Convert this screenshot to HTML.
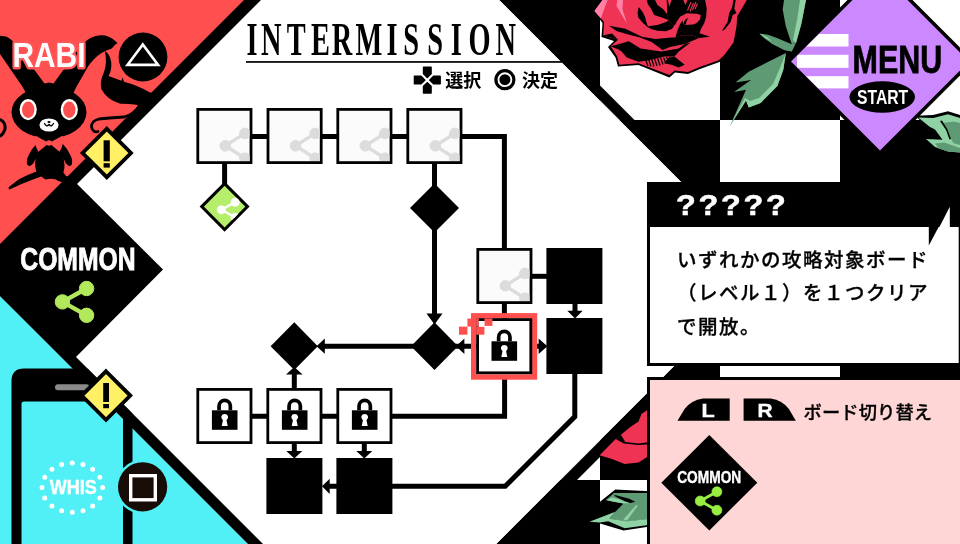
<!DOCTYPE html>
<html lang="ja">
<head>
<meta charset="utf-8">
<title>INTERMISSION</title>
<style>
html,body{margin:0;padding:0;background:#fff;overflow:hidden}
body{width:960px;height:544px;position:relative;font-family:"Liberation Sans","Noto Sans CJK JP",sans-serif}
svg{position:absolute;left:0;top:0;display:block;will-change:transform}
.sans{font-family:"Liberation Sans","Noto Sans CJK JP",sans-serif}
.serif{font-family:"Liberation Serif","Noto Serif CJK JP",serif}
.jp{font-family:"Liberation Sans","Noto Sans CJK JP",sans-serif}
</style>
</head>
<body>
<svg width="960" height="544" viewBox="0 0 960 544">
<defs>
  <clipPath id="rightClip"><polygon points="499.5,0 960,0 960,544 496.5,544 770,270.5"/></clipPath>
  <g id="share">
    <line x1="19.6" y1="-12.4" x2="0" y2="0" stroke-width="3.4"/>
    <line x1="19.6" y1="12.4" x2="0" y2="0" stroke-width="3.4"/>
    <circle cx="19.6" cy="-12.4" r="5.3"/><circle cx="0" cy="0" r="5.3"/><circle cx="19.6" cy="12.4" r="5.3"/>
  </g>
  <g id="share2">
    <line x1="24.2" y1="-13.4" x2="0" y2="0" stroke-width="4.3"/>
    <line x1="24.2" y1="13.4" x2="0" y2="0" stroke-width="4.3"/>
    <circle cx="24.2" cy="-13.4" r="7.2"/><circle cx="0" cy="0" r="7.2"/><circle cx="24.2" cy="13.4" r="7.2"/>
  </g>
  <g id="lock">
    <path d="M-7.5,0 V-4.3 A7.5,7.5 0 0 1 7.5,-4.3 V0 H3.8 V-4.3 A3.8,3.8 0 0 0 -3.8,-4.3 V0 Z" fill="#000"/>
    <rect x="-12.8" y="0" width="25.6" height="19.5" fill="#000"/>
    <path d="M0,3.6 a3.4,3.4 0 0 1 1.8,6.3 L3,15.6 H-3 L-1.8,9.9 A3.4,3.4 0 0 1 0,3.6 Z" fill="#fff"/>
  </g>
  <clipPath id="boxclip"><rect x="2.5" y="2.5" width="50.6" height="50.6"/></clipPath>
  <clipPath id="gdclip"><polygon points="224.6,185.6 245.6,206.6 224.6,227.6 203.6,206.6"/></clipPath>
  <clipPath id="phoneclip"><polygon points="0,281 263,544 0,544"/></clipPath>
  <g id="wbox">
    <rect x="1.4" y="1.4" width="53.2" height="53.2" fill="#fbfbfb" stroke="#000" stroke-width="2.8"/>
    <g clip-path="url(#boxclip)"><use href="#share" x="28.9" y="37.8" fill="#dcdcdc" stroke="#dcdcdc"/></g>
  </g>
  <g id="lbox">
    <rect x="1.4" y="1.4" width="53.2" height="53.2" fill="#fff" stroke="#000" stroke-width="2.8"/>
    <use href="#lock" x="28.3" y="22.3"/>
  </g>
</defs>

<!-- ===== right background: checker ===== -->
<g clip-path="url(#rightClip)">
  <rect x="480" y="0" width="480" height="544" fill="#000"/>
  <g fill="#fff">
    <rect x="600" y="0" width="120" height="120"/><rect x="840" y="0" width="120" height="120"/>
    <rect x="480" y="120" width="120" height="120"/><rect x="720" y="120" width="120" height="120"/>
    <rect x="600" y="240" width="120" height="120"/><rect x="840" y="240" width="120" height="120"/>
    <rect x="480" y="360" width="120" height="120"/><rect x="720" y="360" width="120" height="120"/>
    <rect x="600" y="480" width="120" height="120"/><rect x="840" y="480" width="120" height="120"/>
  </g>
  <polygon points="499.5,0 514.5,0 800,285.5 770,270.5" fill="#000"/>
  <polygon points="496.5,544 513,544 800,257 770,270.5" fill="#000"/>
</g>

<g id="rose1">
  <!-- black under-shadow -->
  <path d="M598,0 L592.5,11 L599.5,19 L602.5,23 L601.5,37 L614,41 L608,47 L615.5,57.5 L618,66.6 L638.5,65 L669.4,77.5 L675,72.5 L688,74 L700,69 L719.5,62 L726,55.5 L735,43 L738,26.5 L738.8,16.5 L744,8 L748.5,0 Z" fill="#000"/>
  <!-- red body -->
  <path d="M602.5,0 L594.4,11 L601,18.4 L604,22 L603.2,35.3 L618,39.7 L610.6,46.3 L617.2,56.6 L619.4,64.7 L638.5,63.2 L669.4,75 L674.7,70.6 L688,72 L699.7,67 L718.8,60.3 L724.7,54.4 L733.5,42.6 L736.5,26.5 L737.2,16.2 L742.4,7.4 L746.8,0 Z" fill="#ee3355"/>
  <!-- pink highlight -->
  <path d="M602.5,0 L594.4,11 L601,18.4 L604.7,7.4 L607.6,0 Z" fill="#ff7fa5"/>
  <path d="M617.2,0 L616.5,5.9 L626.8,23.5 L622.4,8.8 L623.1,0 Z" fill="#ff7fa5"/>
  <!-- inner shading -->
  <g fill="#000">
    <path d="M638.8,7.1 L642.5,11.7 L645.0,16.7 L646.2,21.7 L647.9,26.2 L657.5,25.0 L666.7,21.8 L668.5,20.0 L673.3,25.0 L674.2,26.0 L671.7,29.0 L665.8,31.2 L657.5,30.8 L651.7,29.2 L647.1,26.7 L642.5,22.5 L638.3,17.5 L637.5,12.5 Z"/>
    <path d="M646.7,0.0 L655.0,0.0 L657.5,5.0 L663.3,9.2 L667.1,14.2 L668.5,20.0 L663.3,17.9 L654.2,15.0 L650.8,8.3 L647.9,4.2 Z"/>
    <path d="M666.7,0.0 L667.9,0.0 L669.2,6.7 L671.7,0.0 L683.3,0.0 L685.4,5.0 L687.5,0.0 L705.0,0.0 L706.7,8.3 L706.2,16.7 L704.2,23.3 L700.8,29.2 L699.6,33.3 L710.0,36.7 L699.2,37.9 L692.5,35.4 L680.0,35.8 L675.4,37.5 L676.7,33.3 L678.3,28.3 L680.0,24.2 L682.5,20.8 L684.2,25.0 L693.3,24.6 L696.7,22.9 L700.0,19.6 L700.8,15.0 L696.7,13.8 L686.7,13.3 L680.0,16.7 L676.7,21.7 L675.0,25.0 L673.3,25.0 L668.5,20.0 L667.1,14.2 L667.1,7.5 Z"/>
    <path d="M688.3,17.9 L685.4,19.6 L683.8,22.5 L684.2,25.0 L685.8,24.2 L686.7,20.8 Z"/>
    <path d="M609.1,25.7 L625.3,28.7 L642,36.8 L655.3,39 L671.5,37.5 L675.4,37.5 L680,35.8 L692.5,35.4 L699.2,37.9 L684.7,44.1 L670,47.1 L662.6,50 L651.6,41.9 L640,37.5 L628.2,34.6 L616.5,30.9 Z"/>
    <path d="M610.6,46.3 L619.4,44.1 L628.8,41.2 L640.6,48.5 L661.2,51.5 L678.8,48.5 L684.7,44.1 L690.6,42.6 L678.8,51.5 L674.4,56.6 L664.1,56.6 L648.8,60.3 L638.5,61.8 L626.8,57.4 L621.6,51.5 L618,49.3 Z"/>
    <path d="M674.4,56.6 L684.7,64.7 L678.8,67.6 L671.5,64.7 L664.1,63.2 L668,58 Z"/>
    <path d="M729.1,13.2 L732,7.4 L733.5,0 L735.7,0 L734.3,8.8 L736.5,13.2 L732.8,14.7 L730.6,22 L724.7,29.4 L721.8,30.9 L727.6,22 Z"/>
    <path d="M603.2,35.3 L612,33.5 L618,39.7 Z"/>
  </g>
  <!-- hatch -->
  <g stroke="#ee3355" stroke-width="1.1">
    <path d="M687.5,10.5 L691,2 M690,11.5 L693.5,3 M692.5,10 L696,2 M695,9 L697.5,3.5"/>
  </g>
  <g stroke="#000" stroke-width="1.2">
    <path d="M645.5,59.5 L648,66 M648.5,59 L651,66.5 M651.5,58.5 L654,66.5 M654.5,58.5 L657,66 M657.5,58 L660,65.5 M660.5,57.5 L663,64.5 M663.5,57.5 L666,63.5 M666.5,57 L669,62.5 M669.5,57 L672,61.5"/>
  </g>
</g>

<g id="leaves">
  <!-- top leaf A -->
  <path d="M784,0 L782.7,9.6 L785.8,26.3 L791.8,44.3 L796,43 L801.3,24 L806,0 Z" fill="#5e9b74"/>
  <path d="M800,0 L797,20 L793,40 L796,43 L801.3,24 L806,0 Z" fill="#8fd3a5"/>
  <!-- small leaf B -->
  <path d="M759.5,33.5 L768,34.7 L777.5,38.3 L791.8,44.3 L796,43 L791.8,51.4 L784.6,50.2 L772.6,44.3 L764.3,38.3 Z" fill="#5e9b74"/>
  <path d="M759.5,33.5 L765,38 L772,41.5 L767,37 Z" fill="#8fd3a5"/>
  <!-- leaf C -->
  <path d="M785.8,53 L767.8,62 L748.7,71.8 L735.5,82.5 L751,80 L734,92 L746,89.7 L729.6,126.8 L734,119.6 L746,100.5 L748.7,107.6 L760.7,102.9 L777.4,86 L783.4,69.4 Z" fill="#5e9b74"/>
  <path d="M785.8,53 L783.4,69.4 L777.4,86 L760.7,102.9 L748.7,107.6 L746,100.5 L734,119.6 L729.6,126.8 L745,98 L750,101 L759,98 L773,84 L780,68 Z" fill="#8fd3a5"/>
  <!-- leaf D right -->
  <path d="M915.5,115.8 L933,115 L948,111.3 L962,115.5 L962,155 L947.5,154 L933.5,149 L922.5,138.3 L938.5,139.3 L933,131 L927,127.5 Z" fill="#000"/>
  <path d="M918.2,117.4 L933.3,118 L948,114.3 L960,118 L960,152.5 L948,151.6 L935,147 L926,138.9 L942.5,139.8 L935,129.5 L929.6,126.8 Z" fill="#8fd3a5"/>
  <path d="M942.5,123.1 L953.5,121.6 L960,123.1 L960,145.1 L953.5,143.3 L950.8,138.7 L947.1,129.5 Z" fill="#5e9b74"/>
  <path d="M935.1,143.6 L944.3,142.6 L960,147.9 L960,152.5 L948,151.6 L938.8,148.5 Z" fill="#5e9b74"/>
  <path d="M940,121 L946,130 L949.5,139.5 L951,139 L947.5,129.5 L942,120.5 Z" fill="#000"/>
</g>

<g id="rose2">
  <path d="M650,404 L640,413 L636.5,421 L628,427 L619,434.5 L596.5,455.8 L611,461 L624.6,466 L639.5,464.5 L650,457 Z" fill="#000"/>
  <path d="M650,408.2 L641.5,414.1 L638.5,421.5 L629.7,427.4 L620.9,434.7 L615.7,439.1 L599.6,455.3 L612,459 L624.6,464.1 L638.5,462.6 L650,455.3 Z" fill="#ee3355"/>
  <path d="M615.7,439.1 L620.9,434.7 L625.3,442.1 L638.5,443.5 L650,442.1 L650,444.3 L638.5,445 L623.8,443.5 Z" fill="#000"/>
  <!-- leaf E -->
  <path d="M600,501.8 L615.3,489.4 L650,491.2 L650,526.5 L623.5,530.6 L600,523.5 L586,526.5 Z" fill="#000"/>
  <path d="M614,493 L650,493 L650,519 L627,521.5 L609.4,519 L615.3,511.8 L623.5,503.5 L606,500 Z" fill="#5e9b74"/>
  <path d="M606,500 L612,497.5 L622,500 L630,503 L623.5,503.5 L612,501.5 Z" fill="#8fd3a5"/>
  <path d="M614.1,494.7 L629.4,498.8 L635.3,501.8 L630.6,503 L624.7,501.2 L615.3,496.5 Z" fill="#000"/>
  <path d="M589.4,521.8 L615.3,511.8 L609.4,518.8 L627,521.2 L650,518.8 L650,524.7 L624.7,528.2 L608.2,521.2 L600,522.4 Z" fill="#8fd3a5"/>
  <path d="M623.5,519.4 L636.5,504.7 L637.6,505.9 L627,520.6 Z" fill="#8fd3a5"/>
</g>


<!-- ===== left regions ===== -->
<polygon points="0,0 245,0 0,245" fill="#ff4f4f"/>
<polygon points="244,0 261,0 0,261 0,244" fill="#000"/>
<polygon points="0,296 248,544 0,544" fill="#50f0f6"/>
<polygon points="0,281 0,296 248,544 263,544" fill="#000"/>
<polygon points="-25,271 69,176 163,269.5 69,364" fill="#000"/>

<g id="bunny">
  <!-- ears -->
  <path d="M-2,35.5 L6,36.5 Q12,39 16,45 L44.5,83.5 L49,82.5 L52,100 L30,100 L22,86 L-2,51 Z" fill="#000"/>
  <path d="M49,82.5 L53.5,83.5 L80,47 Q86,39 95.6,36 Q103,34.3 108.8,36.8 Q114,39 117.5,43 Q114,45 111.8,48.5 Q106,50 101.5,53 Q94,58 88.2,66.2 L76.5,86.8 L70,100 L50,100 Z" fill="#000"/>
  <!-- swoosh -->
  <path d="M104.8,51 Q110,54 111.2,62 Q112,70 108.5,76 L121.5,80.8 L122.6,77.2 L124,81.8 Q138,85.5 150,92.5 L158,93.5 L144,106.5 Q134,103.5 120.4,103.8 Q107,100 101.3,89 Q99.5,81 104,72 Q107.5,62 104.8,51 Z" fill="#000"/>
  <!-- thin tail -->
  <path d="M140,104 Q136,114 124,117 Q108,118 99,119 Q91,121 91.5,127 Q93,133 98,131.5" fill="none" stroke="#000" stroke-width="2.8" stroke-linecap="round"/>
  <!-- left curl -->
  <path d="M-2,119 Q6,121 5,129 Q3,136 -3,137" fill="none" stroke="#000" stroke-width="3" stroke-linecap="round"/>
  <!-- head -->
  <ellipse cx="49" cy="112.3" rx="37.5" ry="26" fill="#000"/>
  <!-- body -->
  <path d="M38,136 L60,136 L62.4,143.4 Q67,148 70,154.5 Q73.5,161 71.5,165 Q69,167.5 66,163.5 L63.6,159 Q65.5,166 63.4,172.5 L66,176 Q72,177.5 74,180.5 Q72,183.5 64,182.6 Q58,181.5 56,179.4 Q51,178 45.5,179.4 L41.2,176.6 Q31.7,180 21,184.2 L9.5,189.6 Q7.5,188 9.5,186.4 L19,179.2 Q28,174.5 36.4,171.5 Q34,165 35.8,158.5 L33.2,163.5 Q30,167.5 27.5,165 Q25.5,161 29,154.5 Q32,148 37,143.4 Z" fill="#000"/>
  <!-- eyes -->
  <ellipse cx="28.2" cy="109.6" rx="8.6" ry="10.6" fill="#fff"/><ellipse cx="28.2" cy="109.8" rx="6.2" ry="8.2" fill="#ff4f4f"/>
  <ellipse cx="69.3" cy="109.6" rx="8.6" ry="10.6" fill="#fff"/><ellipse cx="69.3" cy="109.8" rx="6.2" ry="8.2" fill="#ff4f4f"/>
  <!-- muzzle -->
  <ellipse cx="49" cy="125" rx="9.6" ry="6.6" fill="#fff"/>
  <path d="M44.5,123.5 Q46.5,127.5 49,124.5 Q51.5,127.5 53.5,123.5" fill="none" stroke="#000" stroke-width="1.3" stroke-linecap="round"/>
  <ellipse cx="49" cy="122" rx="1.6" ry="1.1" fill="#000"/>
  <!-- bow tie -->
  <path d="M49,143 L35.5,135.8 Q33.5,144 38.5,151.8 Z M49,143 L62.5,135.8 Q64.5,144 59.5,151.8 Z" fill="#ff4f4f"/>
  <circle cx="49" cy="143" r="2.8" fill="#ff4f4f"/>
</g>
<!-- triangle button -->
<circle cx="143" cy="57" r="24.4" fill="#000"/>
<polygon points="142.8,44.5 127.6,64.8 158,64.8" fill="none" stroke="#fff" stroke-width="2.7" stroke-linejoin="miter"/>
<!-- yellow ! top -->
<polygon points="106.8,128.8 131,153 106.8,177.2 82.6,153" fill="#fff066" stroke="#000" stroke-width="3.8" stroke-linejoin="miter"/>
<rect x="103.6" y="140.3" width="6.2" height="21" fill="#000"/><rect x="103.6" y="163.2" width="6.2" height="4.4" fill="#000"/>

<!-- phone -->
<path clip-path="url(#phoneclip)" d="M11.5,544 V381 Q11.5,368.5 24,368.5 H120 Q132.5,368.5 132.5,381 V544 H123 V404 Q123,401.5 120.5,401.5 H24 Q21.5,401.5 21.5,404 V544 Z" fill="#000"/>
<rect x="55" y="384.3" width="34.5" height="6" rx="3" fill="#8a8a8a"/>
<polygon points="106,371.3 130.3,395.6 106,419.9 81.7,395.6" fill="#fff066" stroke="#000" stroke-width="3.8"/>
<rect x="103.2" y="383" width="5.8" height="19" fill="#000"/><rect x="103.2" y="404" width="5.8" height="4.2" fill="#000"/>
<ellipse cx="72.3" cy="487.6" rx="30.3" ry="24.7" fill="none" stroke="#fff" stroke-width="5" stroke-linecap="round" pathLength="160" stroke-dasharray="0 10"/>
<circle cx="142.6" cy="486.8" r="27" fill="#50f0f6"/>
<circle cx="142.6" cy="486.8" r="24.6" fill="#170c06"/>
<rect x="130.7" y="475.7" width="24.6" height="24.1" fill="none" stroke="#fff" stroke-width="3.4"/>

<g id="graph">
  <!-- connector lines -->
  <g stroke="#000" stroke-width="5" fill="none" stroke-linejoin="miter">
    <path d="M250,136.4 H410"/>
    <path d="M224.6,160 V190"/>
    <path d="M460,136.4 H504.4 V320"/>
    <path d="M434.5,160 V316"/>
    <path d="M322,346.2 H540"/>
    <path d="M530,276.3 H550"/>
    <path d="M575,300 V312"/>
    <path d="M504.6,376 V416.3 H250"/>
    <path d="M294.3,372 V452"/>
    <path d="M364.3,440 V452"/>
    <path d="M574.8,370 V416.6 L505.2,486.3 H328"/>
  </g>
  <!-- arrowheads -->
  <g fill="#000">
    <polygon points="434.5,324.5 426.5,313.5 442.5,313.5"/>
    <polygon points="316.5,346.2 324.8,338.6 324.8,353.8"/>
    <polygon points="456,346.2 464.4,338.4 464.4,354"/>
    <polygon points="547.4,346.2 538.6,338.4 538.6,354"/>
    <polygon points="575,318.5 567.3,310.8 582.7,310.8"/>
    <polygon points="294.3,367 286,374.6 302.6,374.6"/>
    <polygon points="294.3,458.5 286.3,451 302.3,451"/>
    <polygon points="364.3,458.5 356.3,451 372.3,451"/>
    <polygon points="322,486.3 329.7,478.7 329.7,493.9"/>
  </g>
  <!-- row 1 -->
  <use href="#wbox" x="196.4" y="108"/><use href="#wbox" x="266.6" y="108"/><use href="#wbox" x="336.4" y="108"/><use href="#wbox" x="406.4" y="108"/>
  <use href="#wbox" x="476.4" y="248"/>
  <rect x="546.4" y="248" width="56" height="56" fill="#000"/>
  <rect x="546.4" y="318" width="56" height="56" fill="#000"/>
  <!-- diamonds -->
  <polygon points="224.6,183.6 247.5,206.6 224.6,229.6 201.7,206.6" fill="#b4ee6a" stroke="#000" stroke-width="3"/>
  <g clip-path="url(#gdclip)"><g transform="translate(221.4,209.8) scale(0.57)"><use href="#share2" fill="#fff" stroke="#fff"/></g></g>
  <polygon points="434.5,183.5 459,208 434.5,232.5 410,208" fill="#000"/>
  <polygon points="434.5,322.3 458,346.2 434.5,370 411,346.2" fill="#000"/>
  <polygon points="294.3,322.3 317.8,346.2 294.3,370 270.6,346.2" fill="#000"/>
  <!-- selected -->
  <rect x="473.7" y="315.8" width="60.8" height="61.2" fill="none" stroke="#ff4f4f" stroke-width="5.4"/>
  <rect x="477.6" y="319.6" width="53.2" height="53.2" fill="#fff" stroke="#000" stroke-width="2.8"/>
  <use href="#lock" x="504.3" y="341.3"/>
  <g fill="#ff4f4f">
    <rect x="459" y="326.6" width="8.4" height="8.1"/><rect x="467.4" y="318.5" width="4.5" height="8.1"/>
    <rect x="484.4" y="318.4" width="8" height="7.5"/><rect x="476.2" y="326.6" width="8.2" height="8.1"/>
    <rect x="476.2" y="318.2" width="2.6" height="8.4"/>
  </g>
  <rect x="478.8" y="321" width="5.6" height="5.6" fill="#fff"/>
  <!-- lock row -->
  <use href="#lbox" x="196.4" y="388"/><use href="#lbox" x="266.4" y="388"/><use href="#lbox" x="336.4" y="388"/>
  <rect x="266.4" y="458" width="56" height="56" fill="#000"/>
  <rect x="336.4" y="458" width="56" height="56" fill="#000"/>
</g>

<!-- info panel -->
<rect x="647" y="182" width="330" height="184" fill="#000"/>
<rect x="650" y="227" width="308.7" height="136" fill="#fff"/>
<polygon points="928.8,226 928.8,245.4 939.2,226" fill="#000"/>
<polygon points="939.2,227.5 949.8,206.8 949.8,227.5" fill="#fff"/>
<!-- pink panel -->
<rect x="647" y="377" width="330" height="180" fill="#000"/>
<rect x="650" y="380" width="330" height="180" fill="#ffd6d6"/>
<path d="M677.5,420.8 L684.6,409 Q691,400.3 703,398.5 H729.7 V420.8 Z" fill="#000"/>
<path d="M795.8,420.8 L788.9,409 Q782.5,400.3 770.5,398.5 H743.6 V420.8 Z" fill="#000"/>
<polygon points="709.3,435 757.3,482.7 709.3,530.5 661.3,482.7" fill="#000"/>
<g transform="translate(700.2,501) scale(0.69)"><use href="#share2" fill="#99ee44" stroke="#99ee44"/></g>

<!-- menu diamond -->
<polygon points="880,-32.5 974,61.5 880,155.5 786,61.5" fill="#000"/>
<polygon points="880,-27.5 969,61.5 880,150.5 791,61.5" fill="#cc88ff"/>
<clipPath id="menuClip"><polygon points="880,-27 968.5,61.5 880,150 791.5,61.5"/></clipPath>
<g clip-path="url(#menuClip)" fill="#fff">
  <rect x="797" y="34" width="51.5" height="12.5"/><rect x="797" y="54.8" width="51.5" height="13"/><rect x="797" y="76.2" width="51.5" height="12.2"/>
</g>
<ellipse cx="882.2" cy="97" rx="32.8" ry="15.7" fill="#000"/>
<!-- common share big -->
<g transform="translate(62.4,301.9)"><use href="#share2" fill="#b2e85c" stroke="#b2e85c"/></g>

<!-- texts -->
<g class="serif" font-weight="bold" font-size="47.3" fill="#000" transform="translate(0,55.3) scale(0.6,1)">
  <text x="411.0 434.9 478.0 518.4 553.1 592.5 644.3 672.0 712.2 751.2 780.9 825.9" y="0">INTERMISSION</text>
</g>
<rect x="246" y="61.1" width="316" height="1.7" fill="#000"/>
<!-- dpad -->
<g fill="#000" stroke="#000" stroke-width="1.6" stroke-linejoin="round" transform="translate(427.3,80.1)">
  <path d="M-3.7,-12.8 H3.7 V-6.3 L0,-2.6 L-3.7,-6.3 Z"/><path d="M-3.7,12.8 H3.7 V6.3 L0,2.6 L-3.7,6.3 Z"/>
  <path d="M-12.8,-3.7 V3.7 H-6.3 L-2.6,0 L-6.3,-3.7 Z"/><path d="M12.8,-3.7 V3.7 H6.3 L2.6,0 L6.3,-3.7 Z"/>
</g>
<text class="jp" x="445.3" y="87.4" font-size="18" font-weight="700" fill="#000">選択</text>
<circle cx="504.9" cy="79.7" r="9" fill="none" stroke="#000" stroke-width="3.2"/><circle cx="504.9" cy="79.7" r="5.5" fill="#000"/>
<text class="jp" x="522" y="87.4" font-size="18" font-weight="700" fill="#000">決定</text>

<g transform="translate(12.4,67.2) scale(0.84,1)"><text class="sans" x="0" y="0" font-size="35.6" font-weight="bold" fill="#fff" stroke="#ff5555" stroke-width="5" paint-order="stroke" stroke-linejoin="round">RABI</text></g>
<g transform="translate(20.3,269.6) scale(0.785,1)"><text class="sans" x="0" y="0" font-size="31.5" font-weight="bold" fill="#fff" stroke="#fff" stroke-width="0.9">COMMON</text></g>
<g transform="translate(49.7,494.4) scale(0.88,1)"><text class="sans" x="0" y="0" font-size="20.5" font-weight="bold" fill="#fff" stroke="#fff" stroke-width="0.4">WHIS</text></g>
<g transform="translate(852.6,72.8) scale(0.8,1)"><text class="sans" x="0" y="0" font-size="38" font-weight="bold" fill="#000" stroke="#000" stroke-width="0.8">MENU</text></g>
<g transform="translate(857,104.2) scale(0.77,1)"><text class="sans" x="0" y="0" font-size="20.4" font-weight="bold" fill="#fff">START</text></g>
<g transform="translate(676,215.4) scale(1.12,1)"><text class="sans" x="0" y="0" font-size="29" font-weight="bold" fill="#fff" stroke="#fff" stroke-width="0.5" letter-spacing="2.4">?????</text></g>
<g class="jp" font-size="19.5" font-weight="500" fill="#000" stroke="#000" stroke-width="0.3" letter-spacing="1.5">
  <text x="677" y="266.5">いずれかの攻略対象ボード</text>
  <text x="677" y="300">（レベル１）を１つクリア</text>
  <text x="677" y="333.5">で開放。</text>
</g>
<g transform="translate(708.2,417) scale(1.14,1)"><text class="sans" x="0" y="0" font-size="19" font-weight="bold" fill="#fff" stroke="#fff" stroke-width="0.4" text-anchor="middle">L</text></g>
<g transform="translate(765,417) scale(1.1,1)"><text class="sans" x="0" y="0" font-size="19" font-weight="bold" fill="#fff" stroke="#fff" stroke-width="0.4" text-anchor="middle">R</text></g>
<text class="jp" x="803.5" y="418.5" font-size="18.3" font-weight="500" fill="#000" stroke="#000" stroke-width="0.3" letter-spacing="0.1">ボード切り替え</text>
<g transform="translate(677.2,482.6) scale(0.79,1)"><text class="sans" x="0" y="0" font-size="17.4" font-weight="bold" fill="#fff" stroke="#fff" stroke-width="0.4">COMMON</text></g>

</svg>
</body>
</html>
